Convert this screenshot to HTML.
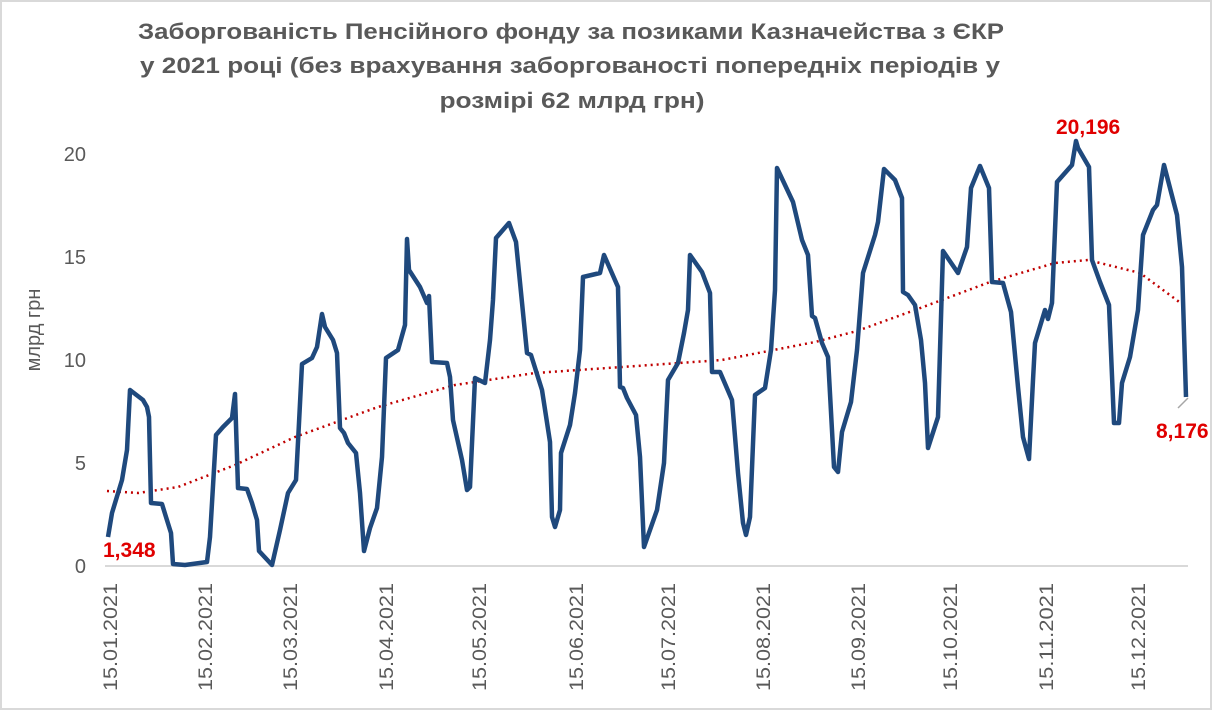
<!DOCTYPE html>
<html><head><meta charset="utf-8"><style>
html,body{margin:0;padding:0;background:#fff}
svg{display:block}
text{font-family:"Liberation Sans",sans-serif}
</style></head><body>
<svg width="1212" height="710" viewBox="0 0 1212 710" xmlns="http://www.w3.org/2000/svg">
<rect x="1" y="1" width="1210" height="708" fill="#fff" stroke="#d9d9d9" stroke-width="2"/>
<g font-weight="bold" font-size="22" fill="#595959" text-anchor="middle">
<text x="571" y="39" textLength="866" lengthAdjust="spacingAndGlyphs">Заборгованість Пенсійного фонду за позиками Казначейства з ЄКР</text>
<text x="570" y="73" textLength="860" lengthAdjust="spacingAndGlyphs">у 2021 році (без врахування заборгованості попередніх періодів  у</text>
<text x="572" y="108" textLength="265" lengthAdjust="spacingAndGlyphs">розмірі 62 млрд грн)</text>
</g>
<line x1="105" y1="566" x2="1188" y2="566" stroke="#d9d9d9" stroke-width="2"/>
<g font-size="20" fill="#595959" text-anchor="end">
<text x="86" y="573">0</text>
<text x="86" y="470">5</text>
<text x="86" y="367">10</text>
<text x="86" y="264">15</text>
<text x="86" y="161">20</text>
</g>
<text transform="translate(40,330) rotate(-90)" font-size="20" fill="#595959" text-anchor="middle">млрд грн</text>
<g font-size="19" fill="#595959">
<text transform="translate(117,691) rotate(-90)" textLength="108" lengthAdjust="spacingAndGlyphs">15.01.2021</text>
<text transform="translate(212,691) rotate(-90)" textLength="108" lengthAdjust="spacingAndGlyphs">15.02.2021</text>
<text transform="translate(297,691) rotate(-90)" textLength="108" lengthAdjust="spacingAndGlyphs">15.03.2021</text>
<text transform="translate(393,691) rotate(-90)" textLength="108" lengthAdjust="spacingAndGlyphs">15.04.2021</text>
<text transform="translate(486,691) rotate(-90)" textLength="108" lengthAdjust="spacingAndGlyphs">15.05.2021</text>
<text transform="translate(583,691) rotate(-90)" textLength="108" lengthAdjust="spacingAndGlyphs">15.06.2021</text>
<text transform="translate(675,691) rotate(-90)" textLength="108" lengthAdjust="spacingAndGlyphs">15.07.2021</text>
<text transform="translate(770,691) rotate(-90)" textLength="108" lengthAdjust="spacingAndGlyphs">15.08.2021</text>
<text transform="translate(865,691) rotate(-90)" textLength="108" lengthAdjust="spacingAndGlyphs">15.09.2021</text>
<text transform="translate(957,691) rotate(-90)" textLength="108" lengthAdjust="spacingAndGlyphs">15.10.2021</text>
<text transform="translate(1053,691) rotate(-90)" textLength="108" lengthAdjust="spacingAndGlyphs">15.11.2021</text>
<text transform="translate(1145,691) rotate(-90)" textLength="108" lengthAdjust="spacingAndGlyphs">15.12.2021</text>
</g>
<polyline fill="none" stroke="#c00000" stroke-width="2.5" stroke-dasharray="2,4" points="107,491 138,493 178,487 235,465 295,437 378,407 455,385 535,373 622,367 722,360 815,342 857,331 915,310 990,282 1055,263 1088,260 1140,273 1186,307"/>
<polyline fill="none" stroke="#1f497d" stroke-width="4.5" stroke-linejoin="round" points="108,537 112,513 122,480 127,450 130,390 143,400 147,407 149,417 151,503 162,504 166,517 171,533 173,564 185,565 207,562 210,537 216,435 223,427 232,418 235,394 238,488 247,489 252,503 257,520 259,551 272,565 280,530 288,493 296,480 299,423 302,364 312,358 317,347 322,314 325,327 333,340 337,353 340,428 344,433 348,443 356,453 360,493 364,551 370,528 377,508 382,457 386,358 398,350 405,325 407,239 409,270 420,287 427,303 429,296 432,362 447,363 450,377 453,420 462,460 467,490 470,487 475,378 485,383 490,340 493,300 496,238 509,223 516,242 527,353 531,355 542,390 550,442 552,517 555,527 560,510 561,453 570,425 575,393 580,350 583,277 600,273 604,255 618,287 620,387 623,388 627,398 636,415 640,457 644,547 657,510 664,463 668,380 678,363 684,333 688,310 690,255 702,272 710,293 712,372 720,372 732,400 738,473 743,523 746,535 750,517 755,395 765,388 771,350 775,290 777,168 793,202 802,240 808,255 812,316 815,318 822,343 828,357 834,467 838,472 842,432 851,402 857,350 863,273 875,235 878,222 884,169 895,180 902,198 903,292 908,295 915,305 921,340 925,383 928,448 938,417 943,251 958,273 967,247 971,188 980,166 989,188 992,282 1003,283 1011,312 1018,387 1023,437 1029,459 1033,380 1035,343 1045,310 1048,319 1052,303 1057,182 1072,165 1076,141 1078,148 1089,167 1092,260 1100,282 1109,305 1114,423 1119,423 1122,383 1130,357 1138,310 1143,235 1153,210 1157,205 1164,165 1177,215 1182,267 1186,397"/>
<line x1="1188" y1="398" x2="1178" y2="408" stroke="#a6a6a6" stroke-width="1.5"/>
<g font-size="21" font-weight="bold" fill="#e00000">
<text x="103" y="557">1,348</text>
<text x="1056" y="134">20,196</text>
<text x="1156" y="438">8,176</text>
</g>
</svg>
</body></html>
